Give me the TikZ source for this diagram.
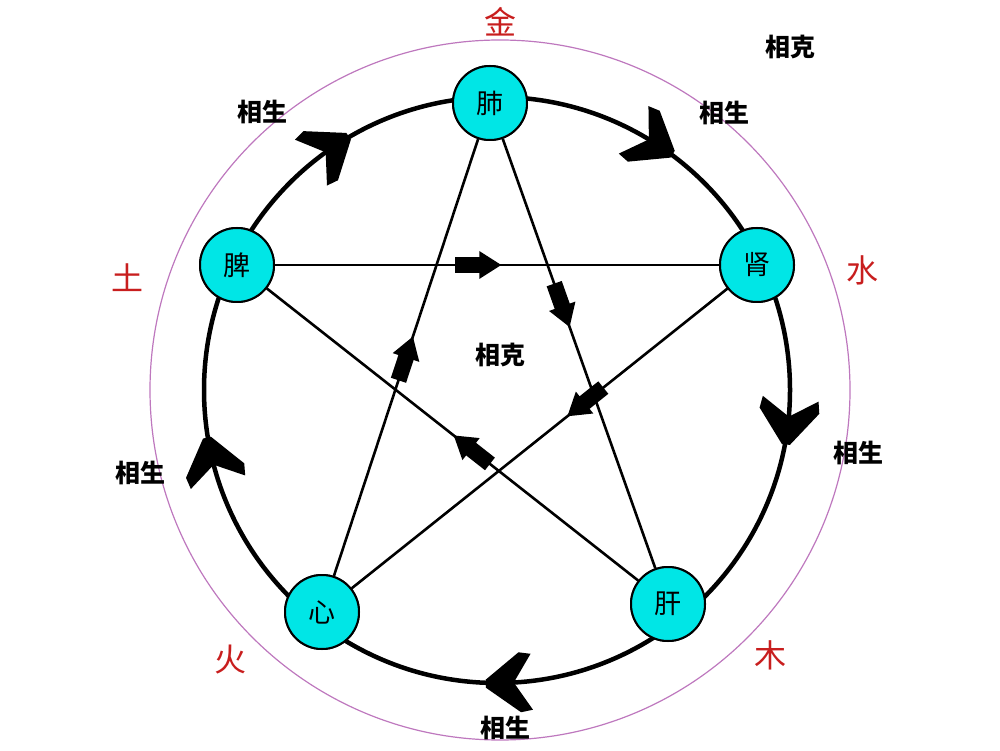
\documentclass[tikz,border=0pt]{standalone}
\usepackage{fontspec}
\setmainfont{Noto Sans CJK SC}
\definecolor{nodecyan}{RGB}{0,230,230}
\definecolor{outerpurple}{RGB}{190,120,190}
\definecolor{elred}{RGB}{200,30,30}
\tikzset{
  organ/.style={circle,draw=black,line width=2pt,fill=nodecyan,minimum size=74pt,inner sep=0pt,font=\fontsize{27}{29}\selectfont},
  lbl/.style={font=\bfseries\fontsize{25}{27}\selectfont},
  elem/.style={text=elred,font=\fontsize{32}{34}\selectfont},
  blk/.pic={\fill[black] (-24,-8) rectangle (2,8); \fill[black] (0,-14) -- (22,0) -- (0,14) -- cycle;},
  chev/.pic={\fill[black] (24,-4) -- (24,4) -- (-10,30) -- (-22,28) -- (-4,0) -- (-22,-28) -- (-10,-30) -- cycle;},
  starline/.style={line width=2.6pt}
}
\begin{document}
\begin{tikzpicture}[x=1pt,y=1pt]
\useasboundingbox (0,0) rectangle (1000,750);
\coordinate (c) at (497,360);
\coordinate (oc) at (500,360);
\draw[outerpurple,line width=1.2pt] (oc) circle (350);
\draw[line width=4.5pt] (c) circle (293);
\node[organ] (fei) at (490,647) {};
\node[organ] (shen) at (757,485) {};
\node[organ] (gan) at (668,146) {};
\node[organ] (xin) at (322,138) {};
\node[organ] (pi) at (237,485) {};
\draw[starline] (fei) -- pic[pos=0.39,sloped,allow upside down]{blk} (gan);
\draw[starline] (gan) -- pic[pos=0.45,sloped,allow upside down]{blk} (pi);
\draw[starline] (pi) -- pic[pos=0.46,sloped,allow upside down]{blk} (shen);
\draw[starline] (shen) -- pic[pos=0.38,sloped,allow upside down]{blk} (xin);
\draw[starline] (xin) -- pic[pos=0.5,sloped,allow upside down]{blk} (fei);
\path (c) ++(58:293) pic[rotate=-32]{chev};
\path (c) ++(-6:293) pic[rotate=-96]{chev};
\path (c) ++(-87.5:293) pic[rotate=-177.5]{chev};
\path (c) ++(194:293) pic[rotate=104]{chev};
\path (c) ++(125:293) pic[rotate=35]{chev};
\node[organ] at (fei) {肺};
\node[organ] at (shen) {肾};
\node[organ] at (gan) {肝};
\node[organ] at (xin) {心};
\node[organ] at (pi) {脾};
\node[elem] (jin) at (500,728) {金};
\node[elem] (shui) at (862,480) {水};
\node[elem] (mu) at (770,95) {木};
\node[elem] (huo) at (230,90) {火};
\node[elem] (tu) at (127,472) {土};
\node[lbl] (s1) at (262,638) {相生};
\node[lbl] (s2) at (724,637) {相生};
\node[lbl] (s3) at (858,297) {相生};
\node[lbl] (s4) at (140,277) {相生};
\node[lbl] (s5) at (505,22) {相生};
\node[lbl] (k1) at (790,703) {相克};
\node[lbl] (k2) at (500,395) {相克};
\end{tikzpicture}
\end{document}
